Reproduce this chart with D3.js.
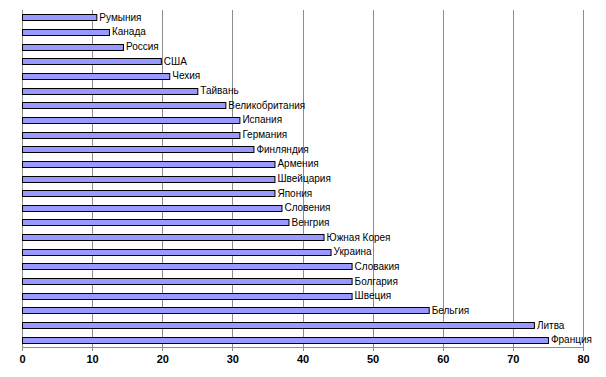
<!DOCTYPE html>
<html>
<head>
<meta charset="utf-8">
<script src="https://cdn.jsdelivr.net/npm/d3@7"></script>
<style>
  body { margin: 0; background: #fff; }
  text { font-family: Arial, "Liberation Sans", sans-serif; }
</style>
</head>
<body>
<script>
// Data
var countries = ["Румыния", "Канада", "Россия", "США", "Чехия", "Тайвань",
  "Великобритания", "Испания", "Германия", "Финляндия", "Армения", "Швейцария",
  "Япония", "Словения", "Венгрия", "Южная Корея", "Украина", "Словакия",
  "Болгария", "Швеция", "Бельгия", "Литва", "Франция"];
var values = [10.6, 12.4, 14.4, 19.8, 21, 25, 29, 31, 31, 33, 36, 36,
  36, 37, 38, 43, 44, 47, 47, 47, 58, 73, 75];
var xTicks = [0, 10, 20, 30, 40, 50, 60, 70, 80];

var data = countries.map(function(c, i) { return {name: c, value: values[i]}; });

// SVG variables
var margin = {top: 10, right: 23, bottom: 30, left: 22},
   width = 606 - margin.left - margin.right,
   height = 377 - margin.top - margin.bottom;

var svg = d3.select("body").append("svg")
   .attr("width", 606)
   .attr("height", 377)
   .append("g")
   .attr("transform", "translate(" + margin.left + "," + margin.top + ")");

// Scales
var xScale = d3.scaleLinear().domain([0, 80]).range([0, width]);
var yScale = d3.scaleBand().domain(countries).range([0, height]).paddingInner(0);

// Gridlines
svg.append("g")
   .selectAll("line")
   .data(xTicks)
   .enter().append("line")
   .attr("x1", function(d) { return Math.round(xScale(d)) + 0.5; })
   .attr("x2", function(d) { return Math.round(xScale(d)) + 0.5; })
   .attr("y1", 0)
   .attr("y2", height + 4)
   .style("stroke", "#8c8c8c")
   .style("stroke-width", 1);

// Bottom axis line
svg.append("line")
   .attr("x1", 0).attr("x2", width)
   .attr("y1", height + 0.5).attr("y2", height + 0.5)
   .style("stroke", "#8c8c8c");

// X axis labels
var xaxis = d3.axisBottom(xScale).tickValues(xTicks).tickSize(0).tickPadding(8);
var gx = svg.append("g")
   .attr("transform", "translate(0," + height + ")")
   .call(xaxis);
gx.select(".domain").remove();
gx.selectAll("text")
   .style("font-size", "11px")
   .style("font-weight", "bold")
   .style("fill", "#000");

// Bars
var barH = 6;
svg.selectAll(".bar")
   .data(data)
   .enter().append("rect")
   .attr("class", "bar")
   .attr("x", xScale(0) + 0.5)
   .attr("y", function(d) { return Math.round(yScale(d.name) + yScale.bandwidth() / 2 - barH / 2) + 0.5; })
   .attr("width", function(d) { return xScale(d.value) - xScale(0); })
   .attr("height", barH)
   .style("fill", "#9999ff")
   .style("stroke", "#000")
   .style("stroke-width", 1);

// Bar labels
svg.selectAll(".lbl")
   .data(data)
   .enter().append("text")
   .attr("class", "lbl")
   .attr("x", function(d) { return xScale(d.value) + 3; })
   .attr("y", function(d) { return yScale(d.name) + yScale.bandwidth() / 2; })
   .attr("dy", "0.35em")
   .style("font-size", "10px")
   .style("fill", "#000")
   .text(function(d) { return d.name; });
</script>
</body>
</html>
